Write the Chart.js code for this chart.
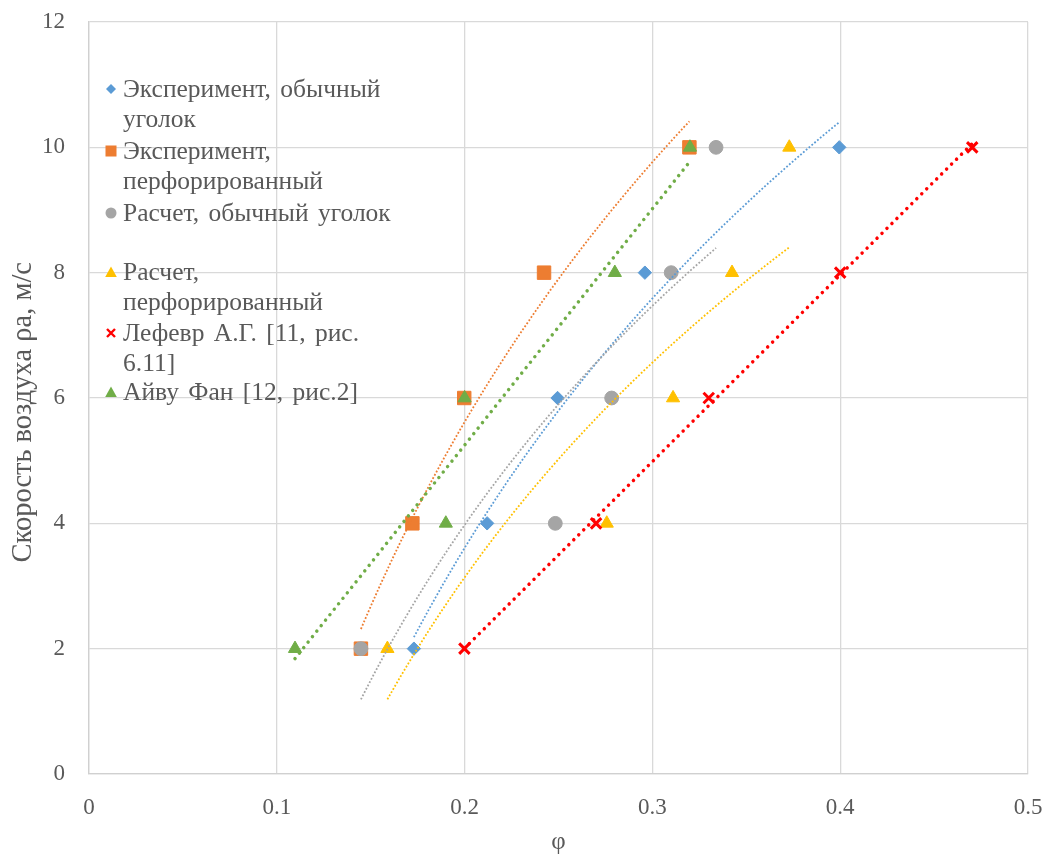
<!DOCTYPE html>
<html>
<head>
<meta charset="utf-8">
<script src="https://cdn.jsdelivr.net/npm/chart.js@4.4.1/dist/chart.umd.min.js"></script>
<style>
  html, body { margin: 0; padding: 0; background: #fff; }
  #wrap { position: relative; width: 1046px; height: 854px; }
  #legend { position: absolute; left: 0; top: 0; font-family: "Liberation Serif", "Times New Roman", serif; font-size: 25.5px; word-spacing: 3px; color: #595959; }
  .item { position: absolute; left: 102px; white-space: nowrap; line-height: 30.5px; }
  .item svg { position: absolute; left: 2px; top: 8px; }
  .item .txt { position: absolute; left: 21px; top: 0; }
</style>
</head>
<body>
<div id="wrap">
  <canvas id="chart" width="1046" height="854"></canvas>
  <div id="legend"></div>
</div>
<script>
// Air speed values shared by all series, m/s
const speeds = [2, 4, 6, 8, 10];

// φ values per series
const phiExpPlain = [0.173, 0.212, 0.2495, 0.296, 0.3995];
const phiExpPerf  = [0.1448, 0.1722, 0.1998, 0.2423, 0.3197];
const phiCalcPlain = [0.1448, 0.2483, 0.2783, 0.310, 0.3339];
const phiCalcPerf  = [0.1589, 0.2757, 0.311, 0.3424, 0.3729];
const phiLefevre   = [0.1999, 0.270, 0.330, 0.400, 0.4703];
const phiIvyFan    = [0.1097, 0.190, 0.200, 0.280, 0.320];

// Series names (legend lines)
const seriesNames = [
  ['Эксперимент, обычный', 'уголок'],
  ['Эксперимент,', 'перфорированный'],
  ['Расчет, обычный уголок'],
  ['Расчет,', 'перфорированный'],
  ['Лефевр А.Г. [11, рис.', '6.11]'],
  ['Айву Фан [12, рис.2]']
];
const seriesColors = ['#5B9BD5', '#ED7D31', '#A5A5A5', '#FFC000', '#FF0000', '#70AD47'];

// Axis ticks
const xTickValues = [0, 0.1, 0.2, 0.3, 0.4, 0.5];
const yTickValues = [0, 2, 4, 6, 8, 10, 12];

const toPoints = (xs, ys) => xs.map((x, i) => ({ x: x, y: ys[i] }));

// Least-squares trend lines: y = a*ln(x) + b, or y = a*x + b
function fitTrend(xs, ys, kind) {
  const tx = kind === 'log' ? xs.map(Math.log) : xs.slice();
  const n = tx.length;
  const mx = tx.reduce((s, v) => s + v, 0) / n;
  const my = ys.reduce((s, v) => s + v, 0) / n;
  let sxy = 0, sxx = 0;
  for (let i = 0; i < n; i++) { sxy += (tx[i] - mx) * (ys[i] - my); sxx += (tx[i] - mx) ** 2; }
  const a = sxy / sxx, b = my - a * mx;
  const lo = Math.min(...xs), hi = Math.max(...xs);
  const pts = [];
  const steps = kind === 'log' ? 60 : 1;
  for (let k = 0; k <= steps; k++) {
    const x = lo + (hi - lo) * k / steps;
    pts.push({ x: x, y: a * (kind === 'log' ? Math.log(x) : x) + b });
  }
  return pts;
}

const seriesPhi = [phiExpPlain, phiExpPerf, phiCalcPlain, phiCalcPerf, phiLefevre, phiIvyFan];
const trendKinds = ['log', 'log', 'log', 'log', 'linear', 'linear'];
const markerStyles = [
  { pointStyle: 'rectRot', radius: 6.7 },
  { pointStyle: 'rect', radius: 9.5 },
  { pointStyle: 'circle', radius: 6.9 },
  { pointStyle: 'triangle', radius: 7.6 },
  { pointStyle: 'crossRot', radius: 7.4 },
  { pointStyle: 'triangle', radius: 7.6 }
];

const datasets = [];
seriesPhi.forEach((xs, i) => {
  const c = seriesColors[i];
  const m = markerStyles[i];
  datasets.push({
    label: seriesNames[i].join(' '),
    data: toPoints(xs, speeds),
    showLine: false,
    pointStyle: m.pointStyle,
    pointRadius: m.radius,
    pointBackgroundColor: c,
    pointBorderColor: c,
    pointBorderWidth: m.pointStyle === 'crossRot' ? 3 : 1,
    order: 100 - i
  });
  const thick = trendKinds[i] === 'linear';
  datasets.push({
    label: 'trend ' + i,
    data: fitTrend(xs, speeds, trendKinds[i]),
    showLine: true,
    pointRadius: 0,
    borderColor: c,
    borderWidth: thick ? 3.5 : 1.8,
    borderDash: thick ? [0.01, 7] : [1.8, 1.9],
    borderCapStyle: thick ? 'round' : 'butt',
    tension: 0,
    order: 10 - i
  });
});

const serif = '"Liberation Serif", "Times New Roman", serif';
const tickFont = { family: serif, size: 23 };

// Keep tick-label overflow out of the layout so the padding alone fixes the plot area
function clearScalePadding(s) {
  s.paddingTop = 0; s.paddingBottom = 0; s.paddingLeft = 0; s.paddingRight = 0;
}

new Chart(document.getElementById('chart'), {
  type: 'scatter',
  data: { datasets: datasets },
  options: {
    responsive: false,
    animation: false,
    events: [],
    layout: { padding: { top: 22, right: 18, left: 0, bottom: 0 } },
    plugins: { legend: { display: false }, tooltip: { enabled: false } },
    scales: {
      x: {
        type: 'linear', min: 0, max: 0.5,
        afterBuildTicks: s => { s.ticks = xTickValues.map(v => ({ value: v })); },
        afterFit: s => { s.height = 80; clearScalePadding(s); },
        ticks: { color: '#595959', font: tickFont, padding: 20, callback: v => String(v) },
        grid: { color: '#d9d9d9', lineWidth: 1.3, drawTicks: false },
        border: { color: '#d0d0d0', width: 1.3 },
        title: { display: true, text: 'φ', color: '#595959', font: { family: serif, size: 25, lineHeight: 0.9 }, padding: { top: 0, bottom: 0 } }
      },
      y: {
        type: 'linear', min: 0, max: 12,
        afterBuildTicks: s => { s.ticks = yTickValues.map(v => ({ value: v })); },
        afterFit: s => { s.width = 89; clearScalePadding(s); },
        ticks: { color: '#595959', font: tickFont, padding: 24 },
        grid: { color: '#d9d9d9', lineWidth: 1.3, drawTicks: false },
        border: { color: '#d0d0d0', width: 1.3 },
        title: { display: true, text: 'Скорость воздуха ρa, м/с    ', color: '#595959', font: { family: serif, size: 28.5 }, padding: { top: 6 } }
      }
    }
  }
});

// Legend drawn as HTML text with small SVG markers
const legendTops = [73.75, 135.75, 197.75, 256.75, 317.75, 376.75];
function markerSvg(i) {
  const c = seriesColors[i];
  let shape;
  switch (markerStyles[i].pointStyle) {
    case 'rectRot': shape = `<polygon points="7,2 12,7 7,12 2,7" fill="${c}"/>`; break;
    case 'rect': shape = `<rect x="1.5" y="1.5" width="11" height="11" fill="${c}"/>`; break;
    case 'circle': shape = `<circle cx="7" cy="7" r="5.5" fill="${c}"/>`; break;
    case 'triangle': shape = `<polygon points="7,1.5 12.8,12 1.2,12" fill="${c}"/>`; break;
    case 'crossRot': shape = `<path d="M3,3 L11,11 M11,3 L3,11" stroke="${c}" stroke-width="2.4"/>`; break;
  }
  return `<svg width="14" height="14" viewBox="0 0 14 14">${shape}</svg>`;
}
const legendEl = document.getElementById('legend');
seriesNames.forEach((lines, i) => {
  const div = document.createElement('div');
  div.className = 'item';
  div.style.top = legendTops[i] + 'px';
  div.innerHTML = markerSvg(i) + '<div class="txt">' + lines.join('<br>') + '</div>';
  legendEl.appendChild(div);
});
</script>
</body>
</html>
